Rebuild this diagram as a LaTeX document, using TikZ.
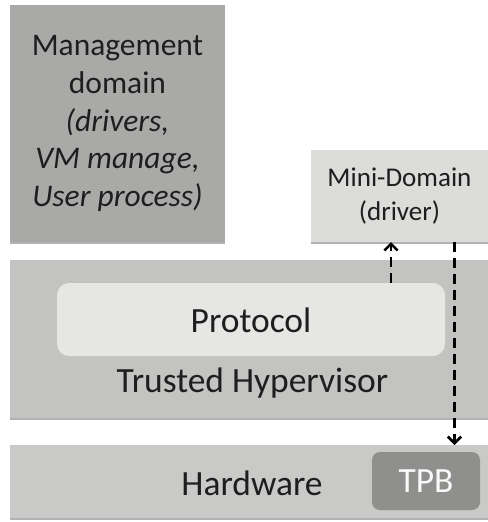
\documentclass[tikz,border=0pt]{standalone}
\usepackage{fontspec}
\setmainfont{Carlito}
\usetikzlibrary{arrows.meta,shadows}
\definecolor{mgmtgray}{HTML}{A9AAA8}
\definecolor{minigray}{HTML}{DCDDDA}
\definecolor{hypergray}{HTML}{C3C4C2}
\definecolor{protogray}{HTML}{E6E6E5}
\definecolor{hwgray}{HTML}{C9CAC8}
\definecolor{tpbgray}{HTML}{8F908E}
\definecolor{inkgray}{HTML}{1E1E1E}
\def\px{0.75pt}
\begin{document}
\begin{tikzpicture}[x=0.75pt,y=-0.75pt,
  layer/.style={draw=none, inner sep=0pt, outer sep=0pt, text=inkgray,
    drop shadow={shadow xshift=0.3pt, shadow yshift=-1.3pt, opacity=0.3, fill=black}},
  inset/.style={draw=none, inner sep=0pt, outer sep=0pt, text=inkgray},
  bigtext/.style={font=\fontsize{26.6}{32}\selectfont, text=inkgray, inner sep=0pt},
  flow/.style={densely dashed, dash pattern=on 7.5pt off 4.5pt, line width=1.9pt, draw=black,
    -{Straight Barb[length=5pt, width=10pt, line width=1.9pt]}}
]
\useasboundingbox (0,0) rectangle (488,522);

% guest domains
\node[layer, fill=mgmtgray, minimum width=215*\px, minimum height=237*\px,
      align=center, font=\fontsize{23.6}{28.2}\selectfont]
  (mgmt) at (117.5,123.5)
  {Management\\domain\\\textit{(drivers,}\\\textit{VM manage,}\\\textit{User process)}};
\node[layer, fill=minigray, minimum width=177*\px, minimum height=92*\px,
      align=center, font=\fontsize{20.3}{26}\selectfont]
  (mini) at (399.5,196) {Mini-Domain\\(driver)};

% hypervisor layer with its protocol
\node[layer, fill=hypergray, minimum width=478*\px, minimum height=158*\px] (hyper) at (249,339) {};
\node[inset, fill=protogray, rounded corners=9pt, minimum width=388*\px, minimum height=73*\px]
  (proto) at (251,319.5) {};
\node[bigtext] (protolabel) at (251,320) {Protocol};
\node[bigtext] (hyperlabel) at (252.5,383) {Trusted Hypervisor};

% hardware layer
\node[layer, fill=hwgray, minimum width=478*\px, minimum height=73*\px] (hw) at (249,481.5) {};
\node[bigtext] (hwlabel) at (252,483) {Hardware};
\node[inset, fill=tpbgray, rounded corners=6pt, minimum width=108*\px, minimum height=58*\px,
      font=\fontsize{26.6}{32}\selectfont, text=white!95!gray] (tpb) at (426,481) {TPB};

% message paths
\coordinate (upx) at (391,0);
\coordinate (downx) at (454.5,0);
\draw[flow] (proto.north -| upx) -- (mini.south -| upx);
\draw[flow] (mini.south -| downx) -- (hw.north -| downx);
\end{tikzpicture}
\end{document}
